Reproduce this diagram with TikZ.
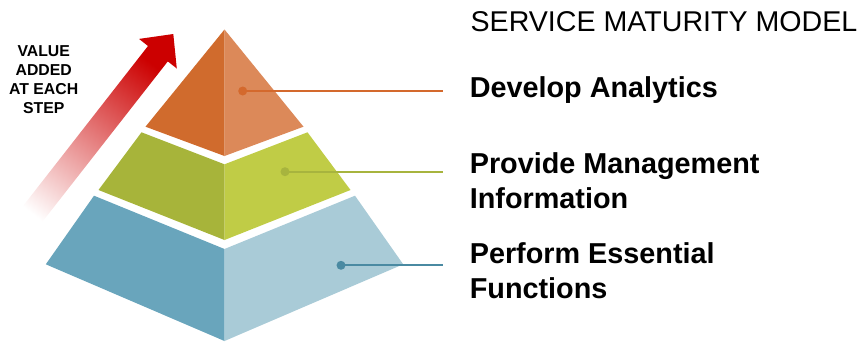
\documentclass[tikz,border=0pt]{standalone}
\usepackage{fontspec}
\setmainfont{Liberation Sans}
\definecolor{arrowred}{HTML}{CC0000}
\definecolor{orangeL}{HTML}{D06B2D}
\definecolor{orangeR}{HTML}{DC8959}
\definecolor{orangeDot}{HTML}{D4692D}
\definecolor{greenL}{HTML}{A7B43A}
\definecolor{greenR}{HTML}{C0CC46}
\definecolor{greenDot}{HTML}{A7B43E}
\definecolor{blueL}{HTML}{69A5BC}
\definecolor{blueR}{HTML}{A9CBD7}
\definecolor{blueDot}{HTML}{4A8AA2}
\tikzset{
  dotmark/.style={circle,inner sep=0pt,minimum size=9pt},
  steptext/.style={anchor=base west,inner sep=0pt,align=left,font=\bfseries\fontsize{28.8}{34.5}\selectfont},
}
\begin{document}
\begin{tikzpicture}[x=1pt,y=1pt]
	\useasboundingbox (0,0) rectangle (866,341);
	% arrow
	\shade[bottom color=white,middle color=arrowred!27!white,top color=arrowred,shading angle=-38]
		(6.4,113.7)--(148,295)--(139,302.1)--(173.3,307)--(176.8,272.5)--(167.8,279.6)--(26,98.3)--cycle;
	% base of a multi-line node = last line
	\node[align=center,anchor=base,inner sep=0pt,font=\bfseries\fontsize{15.8}{19}\selectfont] (value) at (43.7,227.7) {VALUE\\ADDED\\AT EACH\\STEP};
	% pyramid
	\fill[orangeL] (224.5,311.5)--(145.5,214.3)--(224.5,185)--cycle;
	\fill[orangeR] (224.5,311.5)--(224.5,185)--(303.5,214.3)--cycle;
	\fill[greenL] (141.5,208.7)--(224.5,176.7)--(224.5,101)--(98.5,151)--cycle;
	\fill[greenR] (224.5,176.7)--(307.5,208.7)--(350.5,151)--(224.5,101)--cycle;
	\fill[blueL] (94,145.3)--(224.5,92)--(224.5,0)--(45.8,76.7)--cycle;
	\fill[blueR] (224.5,92)--(355,145.3)--(403.2,76.7)--(224.5,0)--cycle;
	% markers
	\node[dotmark,fill=orangeDot] (d1) at (242.7,250) {};
	\node[dotmark,fill=greenDot] (d2) at (285,169.3) {};
	\node[dotmark,fill=blueDot] (d3) at (341,75.7) {};
	\coordinate (e1) at (442.7,250);
	\coordinate (e2) at (442.7,169.3);
	\coordinate (e3) at (442.7,75.7);
	\draw[orangeDot,line width=2pt] (d1.center)--(e1);
	\draw[greenDot,line width=2pt] (d2.center)--(e2);
	\draw[blueDot,line width=2pt] (d3.center)--(e3);
	% texts
	\node[anchor=base west,inner sep=0pt,font=\fontsize{28.6}{34}\selectfont] (title) at (470.4,309.3) {SERVICE MATURITY MODEL};
	\node[steptext] (t1) at (469.6,243.7) {Develop Analytics};
	\node[steptext] (t2) at (469.6,132.7) {Provide Management\\Information};
	\node[steptext] (t3) at (469.6,42.7) {Perform Essential\\Functions};
\end{tikzpicture}
\end{document}
